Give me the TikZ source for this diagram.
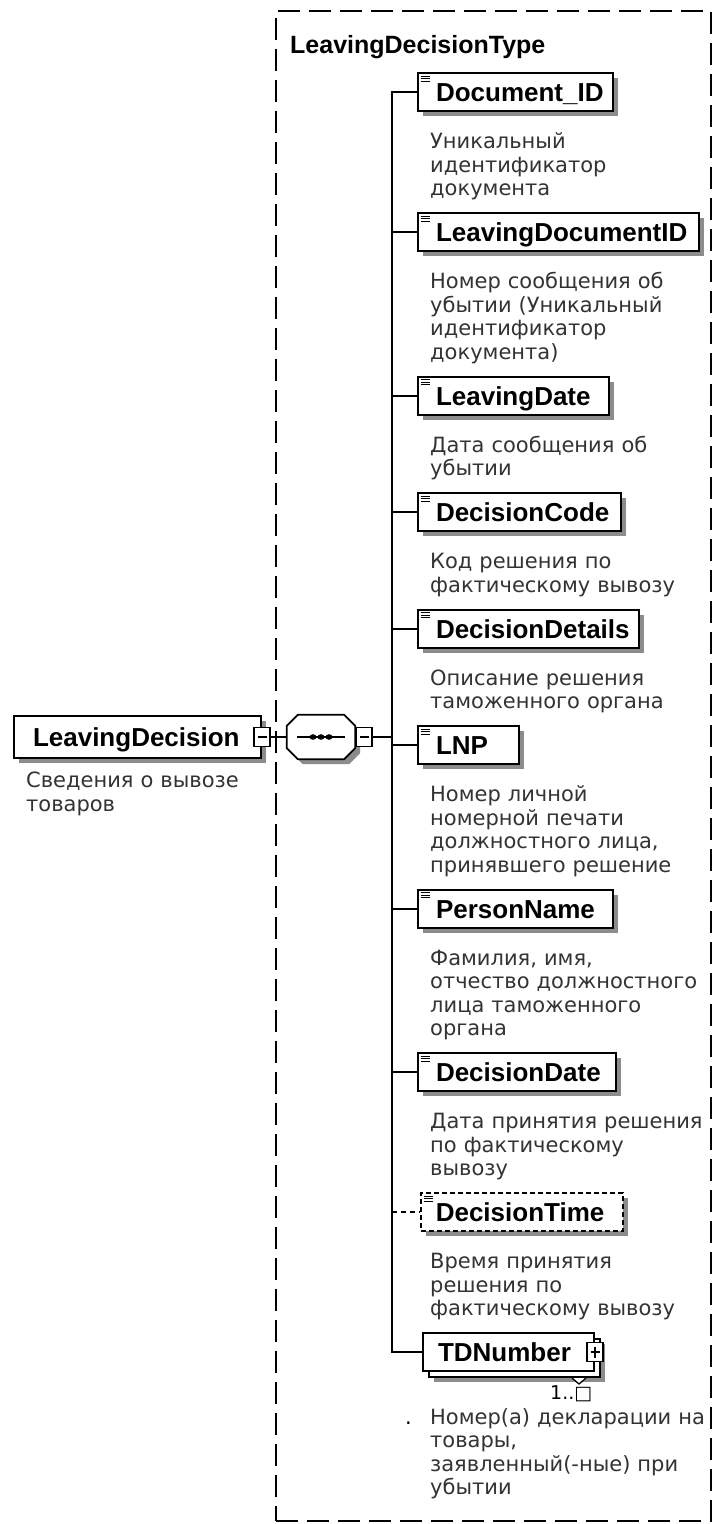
\documentclass[tikz,border=0pt]{standalone}
\usepackage{fontspec}
\setmainfont{DejaVu Sans}
\newfontfamily\namefamily{Liberation Sans}
\newfontfamily\descfamily{DejaVu Sans}
\usetikzlibrary{shadows}
\newcommand\descfont{\descfamily\fontsize{21}{23.5}\selectfont}
\newcommand\multfont{\descfamily\fontsize{19}{23}\selectfont}
\newcommand\elfont{\namefamily\bfseries\fontsize{26}{30}\selectfont}
\newcommand\typefont{\namefamily\bfseries\fontsize{25}{30}\selectfont}
\newcommand\elicon[1]{\foreach \d in {4,6.5,9} \draw[line width=1pt] ([shift={(3.5,\d)}]#1.north west) -- ++(9,0);}
\begin{document}
\begin{tikzpicture}[x=1pt,y=-1pt,
  shadowed/.style={general shadow={fill=black!45, shadow xshift=5pt, shadow yshift=-5pt}},
  elbase/.style={draw, line width=2pt, fill=white, anchor=west, inner xsep=0pt, inner ysep=0pt,
     minimum height=38pt, text height=19pt, text depth=0pt, align=left, font=\elfont},
  elbox/.style={elbase, shadowed},
  optbox/.style={elbox, line width=1.6pt, dash pattern=on 5pt off 3pt},
  multibox/.style={elbase, general shadow={fill=black!45, shadow xshift=11pt, shadow yshift=-11pt},
     copy shadow={shadow xshift=6pt, shadow yshift=-6pt}},
  desc/.style={anchor=base west, inner sep=0pt, text width=290pt, align=left, font=\descfont, text=black!80},
  conn/.style={line width=2pt},
  sqbase/.style={draw, line width=1.3pt, fill=white, minimum width=16pt, minimum height=19pt, inner sep=0pt},
  sqminus/.style={sqbase, path picture={\draw[line width=1.5pt] ([xshift=3.5pt]path picture bounding box.west) -- ([xshift=-3.5pt]path picture bounding box.east);}},
  sqplus/.style={sqbase, path picture={\draw[line width=1.5pt] ([xshift=3.5pt]path picture bounding box.west) -- ([xshift=-3.5pt]path picture bounding box.east); \draw[line width=1.5pt] ([yshift=-4pt]path picture bounding box.north) -- ([yshift=4pt]path picture bounding box.south);}},
  seqnode/.style={minimum width=68pt, minimum height=44pt, inner sep=0pt}
]
\useasboundingbox (0,0) rectangle (713,1524);
\fill[white] (0,0) rectangle (713,1524);

% complex type frame
\node[draw, dash pattern=on 22pt off 9pt, line width=1.8pt, minimum width=435pt, minimum height=1510pt,
      inner sep=0pt, anchor=north west] (ctype) at (275,10) {};
\node[font=\typefont, anchor=base west, inner sep=0pt] (tname) at (290,53) {LeavingDecisionType};

% root element
\node[elbox, text width=247pt, minimum height=42pt] (ld) at (13,737) {\hspace*{19pt}LeavingDecision};
\node[sqminus] (ldm) at (ld.east) {};
\node[desc] (dld) at (26,787.5) {Сведения о вывозе\\товаров};

% sequence compositor
\node[seqnode] (seq) at (321,737) {};
\path[draw, fill=white, line width=1.8pt, line join=round, shadowed]
  ([xshift=11pt]seq.north west) -- ([xshift=-11pt]seq.north east) -- ([yshift=-11pt]seq.north east)
  -- ([yshift=11pt]seq.south east) -- ([xshift=-11pt]seq.south east) -- ([xshift=11pt]seq.south west)
  -- ([yshift=11pt]seq.south west) -- ([yshift=-11pt]seq.north west) -- cycle;
\draw[line width=1.8pt] ([xshift=-24pt]seq.center) -- ([xshift=24pt]seq.center);
\foreach \dx in {-8,0,8} \fill ([xshift=\dx pt]seq.center) ellipse (3.4pt and 2.8pt);
\node[sqminus] (seqm) at (364,737) {};
\coordinate (trunk) at (392,737);
\draw[conn] (ldm.east) -- (seq.west);
\draw[conn] (seqm.east) -- (trunk);

% children
\node[elbox, text width=195pt] (e1) at (417,92) {\hspace*{18pt}Document\_ID};
\node[elbox, text width=281pt] (e2) at (417,232) {\hspace*{18pt}LeavingDocumentID};
\node[elbox, text width=191pt] (e3) at (417,395.5) {\hspace*{18pt}LeavingDate};
\node[elbox, text width=203pt] (e4) at (417,512) {\hspace*{18pt}DecisionCode};
\node[elbox, text width=221pt] (e5) at (417,628.5) {\hspace*{18pt}DecisionDetails};
\node[elbox, text width=101pt] (e6) at (417,745) {\hspace*{18pt}LNP};
\node[elbox, text width=195pt] (e7) at (417,908.5) {\hspace*{18pt}PersonName};
\node[elbox, text width=198pt] (e8) at (417,1072) {\hspace*{18pt}DecisionDate};
\node[optbox, text width=202pt] (e9) at (420,1212) {\hspace*{15pt}DecisionTime};
\node[multibox, text width=171pt] (e10) at (422,1352) {\hspace*{15pt}TDNumber};
\node[sqplus] (e10p) at (e10.east) {};
\draw[line width=1.3pt, fill=white] ([shift={(-23,6)}]e10.south east) -- ++(7,6) -- ++(7,-6);

\foreach \n in {e1,e2,e3,e4,e5,e6,e7,e8,e9} {\elicon{\n}}

\foreach \n in {e1,e2,e3,e4,e5,e6,e7,e8,e10} {\draw[conn] (trunk) |- (\n.west);}
\draw[conn, dash pattern=on 5pt off 4pt] (trunk |- e9.west) -- (e9.west);

% descriptions
\node[desc] (d1) at (430,148.5) {Уникальный\\идентификатор\\документа};
\node[desc] (d2) at (430,288.5) {Номер сообщения об\\убытии (Уникальный\\идентификатор\\документа)};
\node[desc] (d3) at (430,452) {Дата сообщения об\\убытии};
\node[desc] (d4) at (430,568.5) {Код решения по\\фактическому вывозу};
\node[desc] (d5) at (430,685) {Описание решения\\таможенного органа};
\node[desc] (d6) at (430,801.5) {Номер личной\\номерной печати\\должностного лица,\\принявшего решение};
\node[desc] (d7) at (430,965) {Фамилия, имя,\\отчество должностного\\лица таможенного\\органа};
\node[desc] (d8) at (430,1128.5) {Дата принятия решения\\по фактическому\\вывозу};
\node[desc] (d9) at (430,1268.5) {Время принятия\\решения по\\фактическому вывозу};
\node[font=\multfont, anchor=base west, inner sep=0pt] (mult) at (550,1399) {1..□};
\node[font=\descfont, anchor=base west, inner sep=0pt] (dot) at (405,1424) {.};
\node[desc] (d10) at (430,1424) {Номер(а) декларации на\\товары,\\заявленный(-ные) при\\убытии};
\end{tikzpicture}
\end{document}
